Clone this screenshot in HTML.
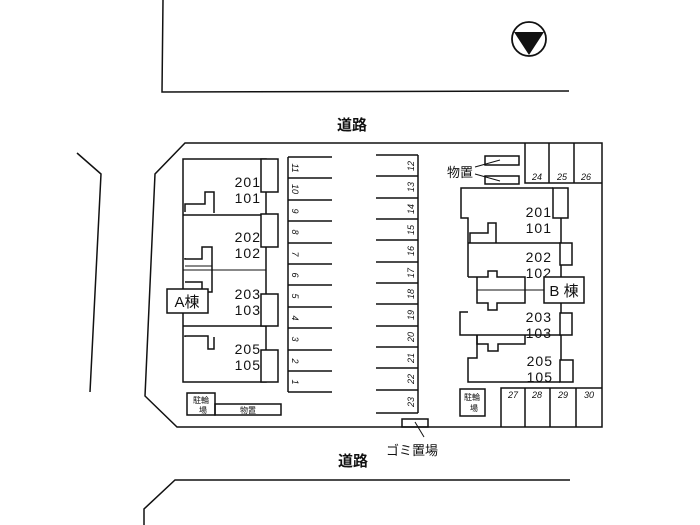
<!DOCTYPE html>
<html><head><meta charset="utf-8"><style>
html,body{margin:0;padding:0;background:#fff;width:700px;height:525px;overflow:hidden}
svg{display:block}
text{font-family:"Liberation Sans","Noto Sans CJK JP",sans-serif;fill:#111}
</style></head><body>
<svg width="700" height="525" viewBox="0 0 700 525" stroke="#111" fill="none" stroke-width="1.5">
<!-- top road -->
<polyline points="163,0 162,92 569,91"/>
<circle cx="529" cy="39" r="17" stroke-width="1.8"/>
<polygon points="514,32 544,32 529,55" fill="#111" stroke="none"/>
<text x="352" y="130" font-size="15" font-weight="bold" text-anchor="middle" stroke="none">道路</text>
<!-- left road -->
<polyline points="77,153 101,174 90,392"/>
<!-- site -->
<polygon points="185,143 602,143 602,427 177,427 145,396 155,174"/>
<!-- bottom road -->
<text x="353" y="466" font-size="15" font-weight="bold" text-anchor="middle" stroke="none">道路</text>
<polyline points="570,480 175,480 144,509 144,525"/>
<!-- gomi -->
<rect x="402" y="419" width="26" height="8"/>
<line x1="415" y1="422" x2="424" y2="437" stroke-width="1"/>
<text x="412" y="455" font-size="13" text-anchor="middle" stroke="none">ゴミ置場</text>

<!-- A building -->
<rect x="183" y="159" width="83" height="223"/>
<line x1="183" y1="215" x2="266" y2="215"/>
<line x1="183" y1="270" x2="266" y2="270" stroke-width="1"/>
<line x1="183" y1="326" x2="266" y2="326"/>
<polyline points="185,212 185,204 205,204 205,192 214,192 214,213"/>
<polyline points="185,258 185,259 202,259 202,247 212,247 212,292 202,292 202,282 185,282"/>
<polyline points="185,337 185,336 208,336 208,349 214,349 214,337" />
<polyline points="185,266 212,266" stroke-width="1"/>
<rect x="261" y="159" width="17" height="33" fill="#fff"/>
<rect x="261" y="214" width="17" height="33" fill="#fff"/>
<rect x="261" y="294" width="17" height="32" fill="#fff"/>
<rect x="261" y="350" width="17" height="32" fill="#fff"/>
<g font-size="14" stroke="none" text-anchor="end" letter-spacing="1">
<text x="261" y="187">201</text><text x="261" y="203">101</text>
<text x="261" y="242">202</text><text x="261" y="258">102</text>
<text x="261" y="299">203</text><text x="261" y="315">103</text>
<text x="261" y="354">205</text><text x="261" y="370">105</text>
</g>
<rect x="167" y="289" width="41" height="24" fill="#fff"/>
<text x="187" y="307" font-size="15" text-anchor="middle" stroke="none">A棟</text>
<rect x="187" y="393" width="28" height="22"/>
<text x="201" y="403" font-size="8" text-anchor="middle" stroke="none">駐輪</text>
<text x="203" y="413" font-size="8" text-anchor="middle" stroke="none">場</text>
<rect x="215" y="404" width="66" height="11"/>
<text x="248" y="413" font-size="8" text-anchor="middle" stroke="none">物置</text>

<!-- left parking -->
<line x1="288" y1="157" x2="288" y2="392"/>
<g stroke-width="1.5">
<line x1="288" y1="157" x2="332" y2="157"/><line x1="288" y1="178" x2="332" y2="178"/>
<line x1="288" y1="200" x2="332" y2="200"/><line x1="288" y1="221" x2="332" y2="221"/>
<line x1="288" y1="243" x2="332" y2="243"/><line x1="288" y1="264" x2="332" y2="264"/>
<line x1="288" y1="285" x2="332" y2="285"/><line x1="288" y1="307" x2="332" y2="307"/>
<line x1="288" y1="328" x2="332" y2="328"/><line x1="288" y1="350" x2="332" y2="350"/>
<line x1="288" y1="371" x2="332" y2="371"/><line x1="288" y1="392" x2="332" y2="392"/>
</g>
<g font-size="9" font-style="italic" stroke="none" text-anchor="middle">
<text transform="translate(292,168) rotate(90)">11</text>
<text transform="translate(292,189) rotate(90)">10</text>
<text transform="translate(292,211) rotate(90)">9</text>
<text transform="translate(292,232) rotate(90)">8</text>
<text transform="translate(292,254) rotate(90)">7</text>
<text transform="translate(292,275) rotate(90)">6</text>
<text transform="translate(292,296) rotate(90)">5</text>
<text transform="translate(292,318) rotate(90)">4</text>
<text transform="translate(292,339) rotate(90)">3</text>
<text transform="translate(292,361) rotate(90)">2</text>
<text transform="translate(292,382) rotate(90)">1</text>
</g>
<!-- right parking -->
<line x1="418" y1="155" x2="418" y2="413"/>
<g>
<line x1="376" y1="155" x2="418" y2="155"/><line x1="376" y1="176" x2="418" y2="176"/>
<line x1="376" y1="198" x2="418" y2="198"/><line x1="376" y1="219" x2="418" y2="219"/>
<line x1="376" y1="240" x2="418" y2="240"/><line x1="376" y1="262" x2="418" y2="262"/>
<line x1="376" y1="283" x2="418" y2="283"/><line x1="376" y1="304" x2="418" y2="304"/>
<line x1="376" y1="326" x2="418" y2="326"/><line x1="376" y1="347" x2="418" y2="347"/>
<line x1="376" y1="368" x2="418" y2="368"/><line x1="376" y1="390" x2="418" y2="390"/>
<line x1="376" y1="413" x2="418" y2="413"/>
</g>
<g font-size="9" font-style="italic" stroke="none" text-anchor="middle">
<text transform="translate(414,166) rotate(-90)">12</text>
<text transform="translate(414,187) rotate(-90)">13</text>
<text transform="translate(414,209) rotate(-90)">14</text>
<text transform="translate(414,230) rotate(-90)">15</text>
<text transform="translate(414,251) rotate(-90)">16</text>
<text transform="translate(414,273) rotate(-90)">17</text>
<text transform="translate(414,294) rotate(-90)">18</text>
<text transform="translate(414,315) rotate(-90)">19</text>
<text transform="translate(414,337) rotate(-90)">20</text>
<text transform="translate(414,358) rotate(-90)">21</text>
<text transform="translate(414,379) rotate(-90)">22</text>
<text transform="translate(414,402) rotate(-90)">23</text>
</g>

<!-- top right parking 24-26 -->
<polyline points="525,143 525,183 602,183"/>
<line x1="549" y1="143" x2="549" y2="183"/><line x1="574" y1="143" x2="574" y2="183"/>
<g font-size="9" font-style="italic" stroke="none" text-anchor="middle">
<text x="537" y="180">24</text><text x="562" y="180">25</text><text x="586" y="180">26</text>
</g>
<!-- 物置 -->
<rect x="485" y="156" width="34" height="9"/>
<rect x="485" y="176" width="34" height="8"/>
<line x1="475" y1="167" x2="500" y2="160" stroke-width="1"/>
<line x1="475" y1="174" x2="500" y2="181" stroke-width="1"/>
<text x="460" y="177" font-size="13" text-anchor="middle" stroke="none">物置</text>

<!-- B building -->
<polyline points="553,188 461,188 461,218 468,218 468,277"/>
<polyline points="468,312 460,312 460,335 561,335"/>
<polyline points="477,335 477,358 468,358 468,382 560,382"/>
<line x1="468" y1="243" x2="561" y2="243"/>
<line x1="561" y1="218" x2="561" y2="360"/>
<polyline points="470,243 470,233 488,233 488,223 496,223 496,243"/>
<polyline points="468,277 477,277 477,277"/>
<polyline points="477,277 488,277 488,271 497,271 497,277 525,277 525,303 497,303 497,310 488,310 488,303 477,303 477,277"/>
<line x1="477" y1="290" x2="544" y2="290" stroke-width="1"/>
<polyline points="477,335 477,344 488,344 488,351 498,351 498,344 525,344 525,335"/>
<rect x="553" y="188" width="15" height="30" fill="#fff"/>
<rect x="560" y="243" width="12" height="22" fill="#fff"/>
<rect x="560" y="313" width="12" height="22" fill="#fff"/>
<rect x="560" y="360" width="13" height="22" fill="#fff"/>
<g font-size="14" stroke="none" text-anchor="end" letter-spacing="1">
<text x="552" y="217">201</text><text x="552" y="233">101</text>
<text x="552" y="262">202</text><text x="552" y="278">102</text>
<text x="552" y="322">203</text><text x="552" y="338">103</text>
<text x="553" y="366">205</text><text x="553" y="382">105</text>
</g>
<rect x="544" y="277" width="40" height="26" fill="#fff"/>
<text x="564" y="296" font-size="15" text-anchor="middle" stroke="none">B 棟</text>
<rect x="460" y="389" width="25" height="27"/>
<text x="472" y="400" font-size="8" text-anchor="middle" stroke="none">駐輪</text>
<text x="474" y="411" font-size="8" text-anchor="middle" stroke="none">場</text>
<!-- 27-30 -->
<polyline points="501,427 501,388 602,388"/>
<line x1="525" y1="388" x2="525" y2="427"/><line x1="550" y1="388" x2="550" y2="427"/><line x1="576" y1="388" x2="576" y2="427"/>
<g font-size="9" font-style="italic" stroke="none" text-anchor="middle">
<text x="513" y="398">27</text><text x="537" y="398">28</text><text x="563" y="398">29</text><text x="589" y="398">30</text>
</g>
</svg>
</body></html>
